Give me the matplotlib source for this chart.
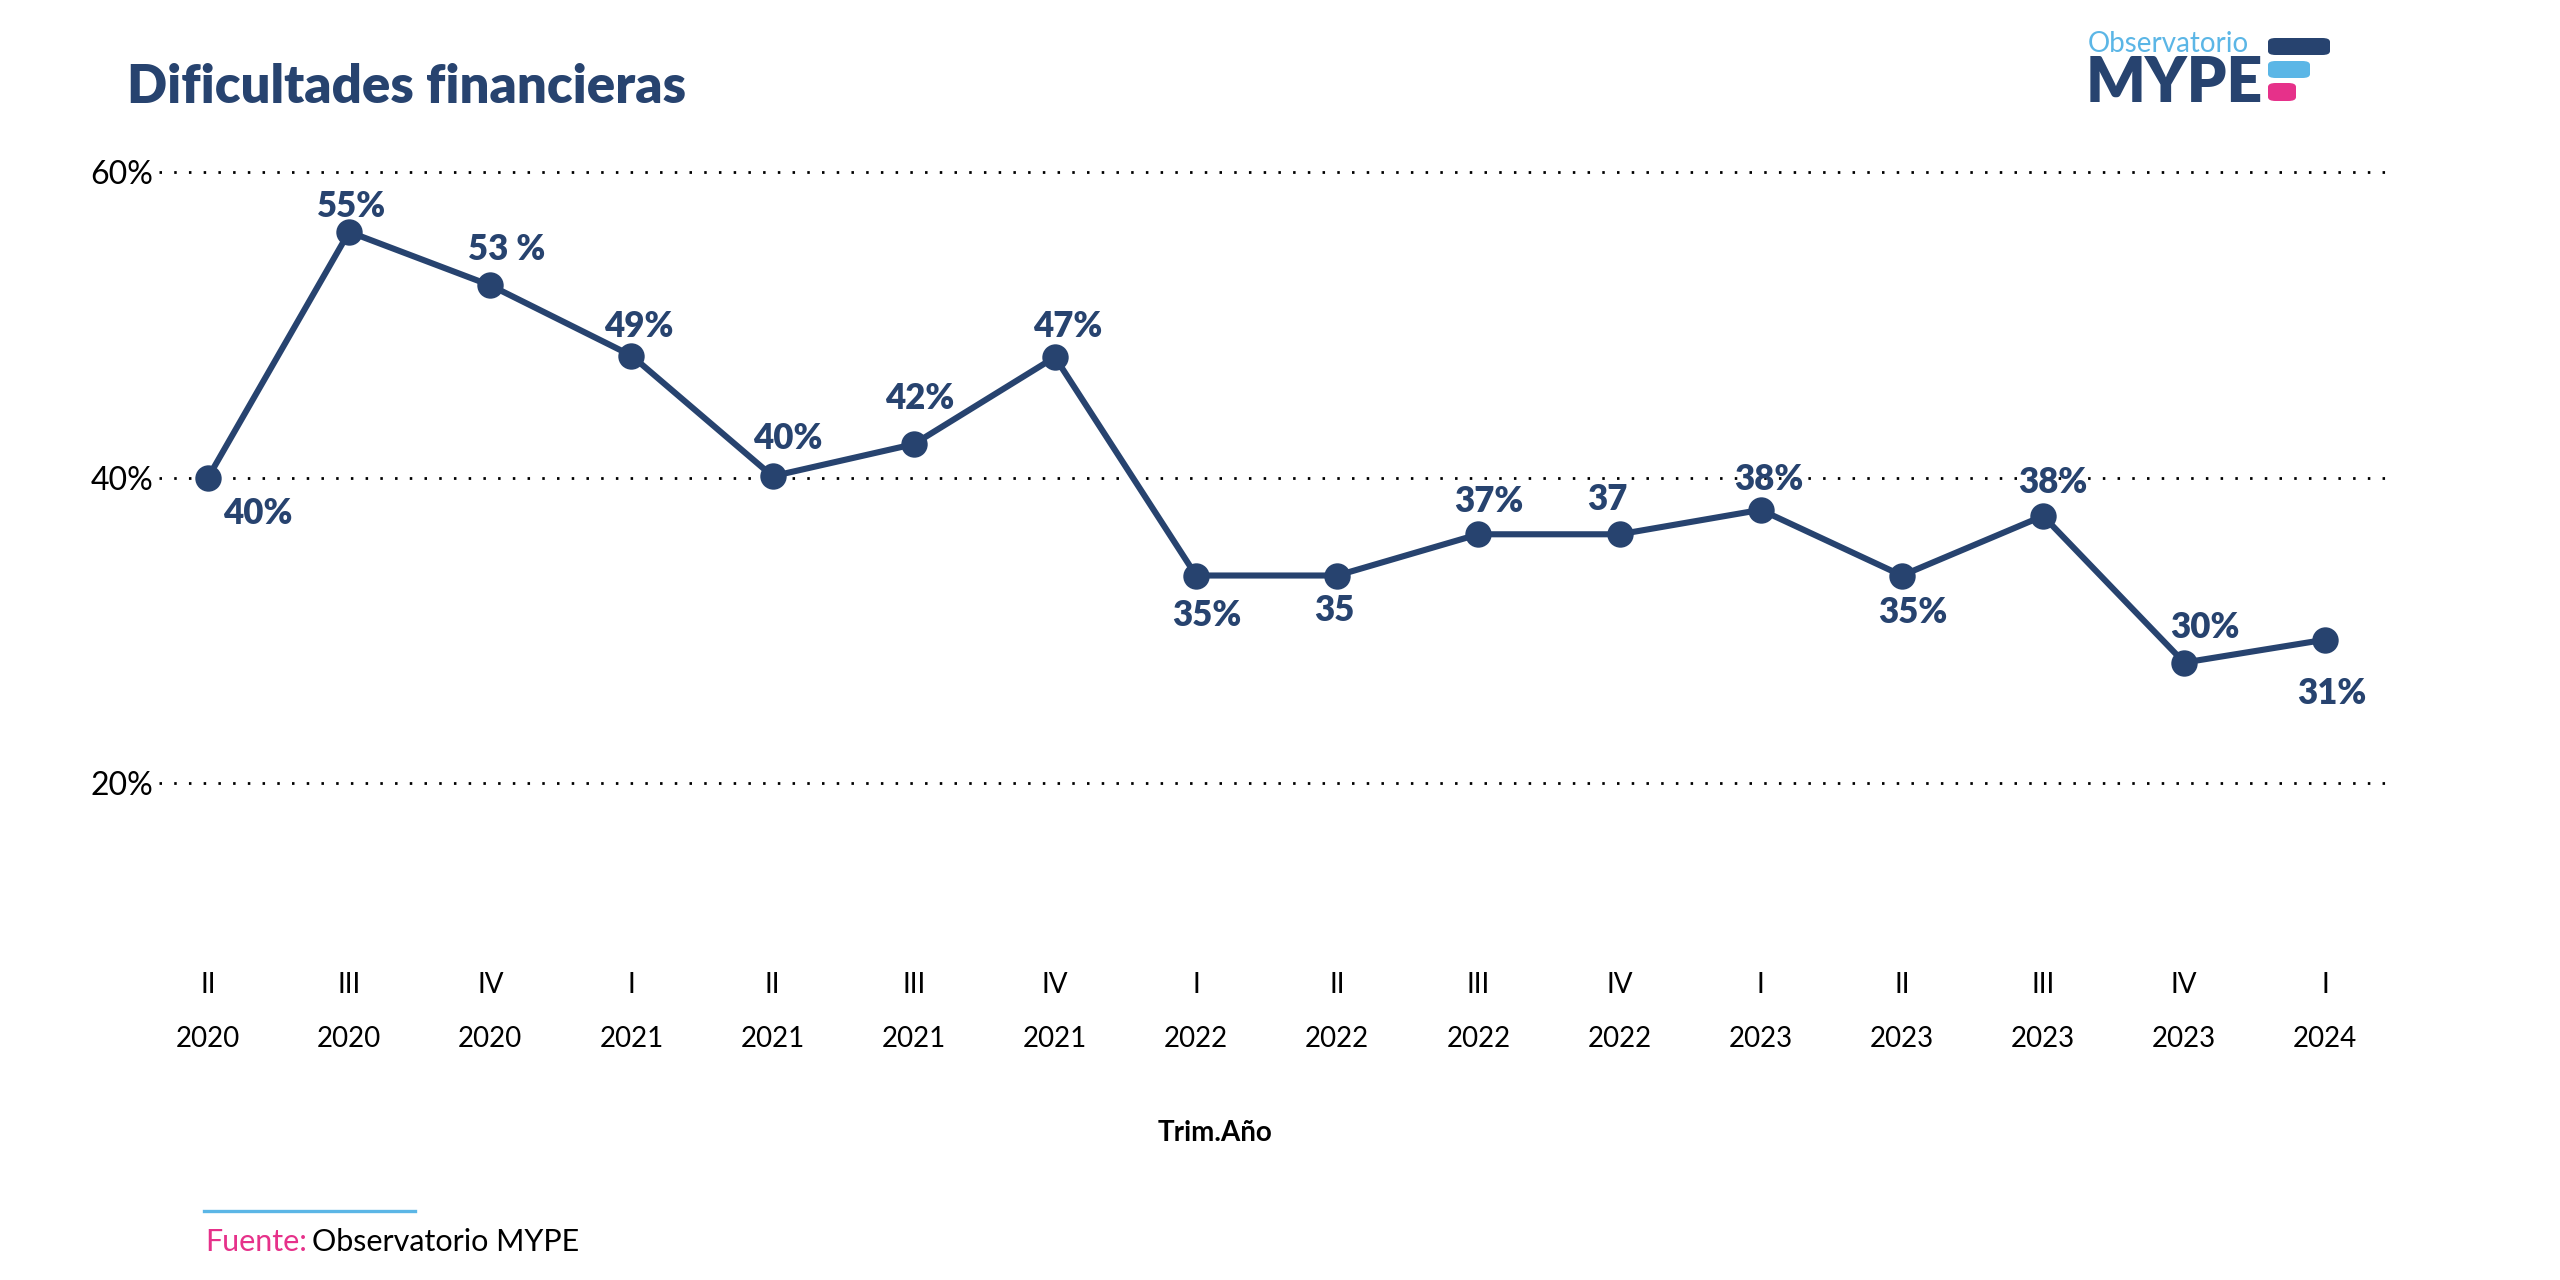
import matplotlib.pyplot as plt
import matplotlib.transforms as mtransforms
from matplotlib.patches import FancyBboxPatch

# datos
trimestres = ["II", "III", "IV", "I", "II", "III", "IV", "I",
              "II", "III", "IV", "I", "II", "III", "IV", "I"]
anios = ["2020", "2020", "2020", "2021", "2021", "2021", "2021", "2022",
         "2022", "2022", "2022", "2023", "2023", "2023", "2023", "2024"]
valores = [40.0, 56.1, 52.6, 48.0, 40.1, 42.2, 47.9, 33.6,
           33.6, 36.3, 36.3, 37.9, 33.6, 37.5, 27.9, 29.4]
etiquetas = ["40%", "55%", "53 %", "49%", "40%", "42%", "47%", "35%",
             "35", "37%", "37", "38%", "35%", "38%", "30%", "31%"]

# desplazamiento de cada etiqueta (puntos) -> estilo, no datos
desp = [(18, -7), (1, 5.4), (5.8, 9), (2.5, 6.8), (5.4, 9.7), (2.2, 12.6),
        (4.7, 7.2), (4, -8.3), (-1, -6.5), (3.6, 7.9), (-4.3, 8.6), (2.9, 7.2),
        (4, -7.2), (3.6, 8.3), (7.6, 9), (2.2, -13.3)]

azul = "#27436f"
celeste = "#5bb6e6"
rosa = "#e6318a"

plt.rcParams["font.family"] = ["Lato", "DejaVu Sans"]

fig = plt.figure(figsize=(12.8, 6.4), dpi=200)
ax = fig.add_axes([0.0621, 0.2688, 0.872, 0.6085])

x = list(range(len(valores)))
ax.plot(x, valores, color=azul, lw=2.2, marker="o", ms=8.5, zorder=3)

for i, (v, t) in enumerate(zip(valores, etiquetas)):
    dx, dy = desp[i]
    ax.annotate(t, (i, v), xytext=(dx, dy), textcoords="offset points",
                ha="center", va="baseline" if dy > 0 else "top",
                fontsize=12.5, fontweight="heavy", color=azul)

ax.set_xlim(-0.347, 15.467)
ax.set_ylim(10, 61)
ax.set_yticks([20, 40, 60])
ax.set_yticklabels(["20%", "40%", "60%"], fontsize=11.5, color="black")
ax.tick_params(axis="y", length=0, pad=2)
for yv in [20, 40, 60]:
    ax.axhline(yv, color="black", lw=1.0, ls=(0, (0.9, 4.4)), zorder=1)

ax.set_xticks(x)
ax.set_xticklabels(trimestres, fontsize=10)
ax.tick_params(axis="x", length=0, pad=13)
trans = mtransforms.blended_transform_factory(ax.transData, ax.transAxes)
for i, a in enumerate(anios):
    ax.text(i, -0.132, a, transform=trans, ha="center", va="center", fontsize=10)

for s in ax.spines.values():
    s.set_visible(False)

fig.text(1215 / 2560, 1 - 1133 / 1280, "Trim.Año", ha="center", va="center",
         fontsize=10, fontweight="bold")

fig.text(127 / 2560, 1 - 103 / 1280, "Dificultades financieras", ha="left",
         va="baseline", fontsize=19, fontweight="heavy", color=azul)

# fuente
fig.add_artist(plt.Line2D([204 / 2560, 415 / 2560], [1 - 1211 / 1280] * 2,
                          color=celeste, lw=1.2))
t1 = fig.text(205 / 2560, 1 - 1242 / 1280, "Fuente:", ha="left", va="center",
              fontsize=11, color=rosa)
fig.canvas.draw()
bb = t1.get_window_extent()
fig.text(bb.x1 / 2560 + 0.002, 1 - 1242 / 1280, "Observatorio MYPE", ha="left",
         va="center", fontsize=11, color="black")

# logo
fig.text(2088 / 2560, 1 - 52 / 1280, "Observatorio", ha="left", va="baseline",
         fontsize=10, color=celeste)
fig.text(2086 / 2560, 1 - 102 / 1280, "MYPE", ha="left", va="baseline",
         fontsize=22.5, fontweight="heavy", color=azul)
for (x0, x1, y0, y1, c) in [(2268, 2330, 38, 55, azul), (2268, 2310, 61, 78, celeste),
                            (2268, 2296, 83, 101, rosa)]:
    fig.add_artist(FancyBboxPatch((x0 / 2560, 1 - y1 / 1280), (x1 - x0) / 2560,
                                  (y1 - y0) / 1280, boxstyle="round,pad=0,rounding_size=0.003",
                                  transform=fig.transFigure, color=c, lw=0))

fig.savefig("out.png", dpi=200)
